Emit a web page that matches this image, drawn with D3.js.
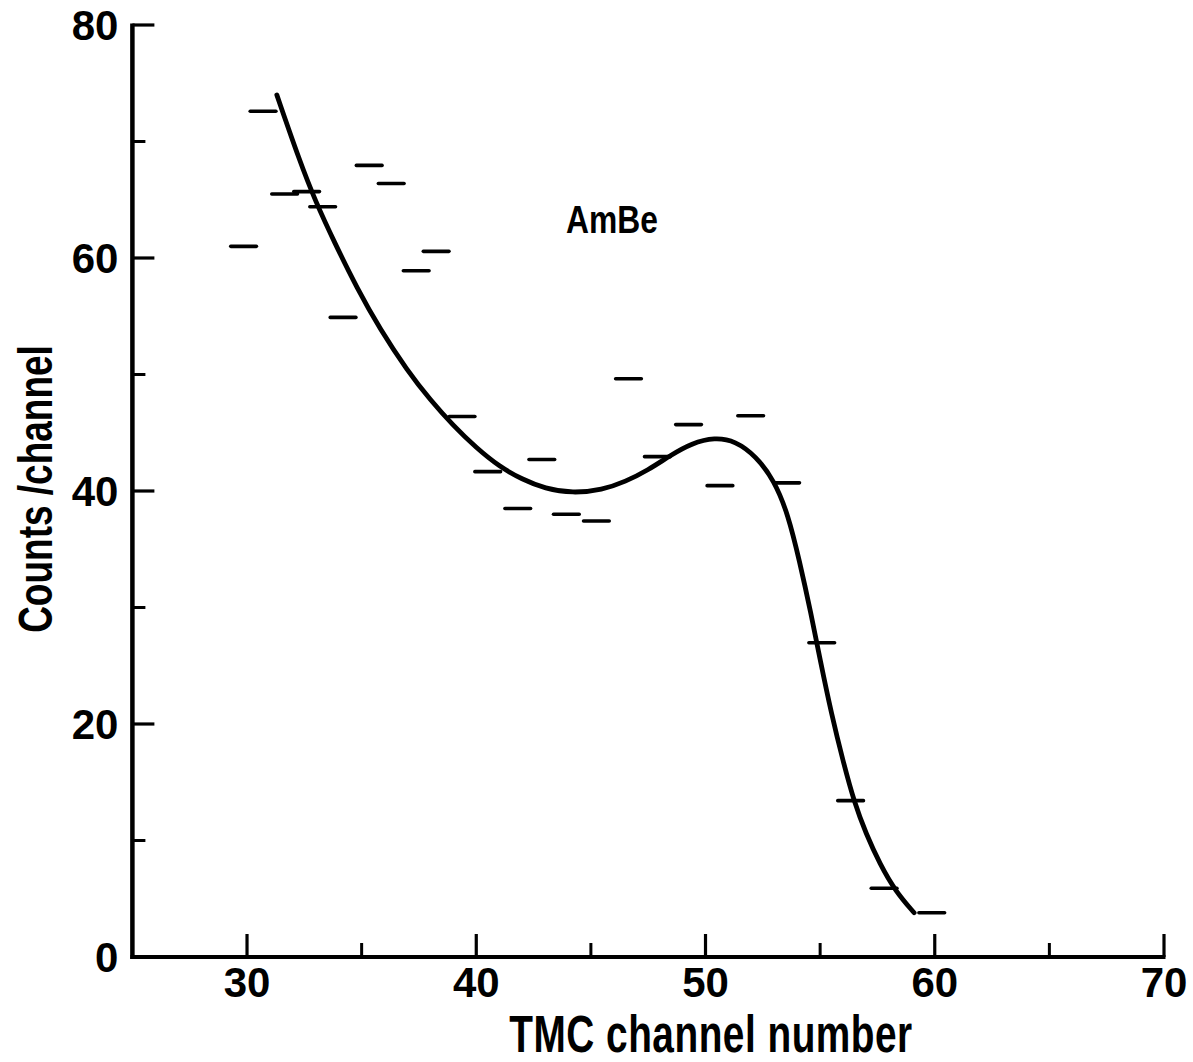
<!DOCTYPE html>
<html>
<head>
<meta charset="utf-8">
<script src="https://cdn.jsdelivr.net/npm/d3@7"></script>
<style>
body { margin: 0; background: #fff; }
text { font-family: "Liberation Sans", Arial, sans-serif; font-weight: bold; fill: #000; }
</style>
</head>
<body>
<script>
var w = 1193, h = 1062;

// measured points (channel, counts/channel)
var chanX = [29.85, 30.70, 31.64, 32.60, 33.30, 34.19, 35.33, 36.29, 37.38, 38.25, 39.38, 40.50, 41.81,
	42.86, 43.93, 45.24, 46.64, 47.90, 49.26, 50.63, 51.97, 53.54, 55.07, 56.33, 57.79, 59.87];
var counts = [61.0, 72.6, 65.5, 65.7, 64.4, 54.9, 67.95, 66.4, 58.9, 60.57, 46.4, 41.66, 38.5,
	42.7, 38.0, 37.42, 49.64, 42.95, 45.7, 40.46, 46.46, 40.7, 26.98, 13.42, 5.9, 3.8];

// hand drawn fit
var fitX = [31.3, 32.3, 33.0, 33.8, 34.8, 35.8, 37.0, 38.0, 39.0, 40.0, 41.0, 42.0, 43.0, 44.2,
	45.5, 46.5, 47.5, 48.5, 49.4, 50.4, 51.3, 52.2, 53.0, 53.6, 54.1, 54.6, 55.0, 55.5, 56.0,
	56.5, 57.0, 57.6, 58.3, 59.1];
var fitY = [74.0, 68.3, 64.8, 61.4, 57.4, 53.9, 50.3, 47.8, 45.6, 43.7, 42.1, 41.0, 40.2, 39.8,
	40.1, 40.8, 41.8, 43.1, 44.1, 44.6, 44.3, 43.0, 40.9, 38.0, 34.0, 29.5, 25.5, 20.8, 16.8,
	13.2, 10.6, 8.0, 5.6, 3.8];

var xMajor = [30, 40, 50, 60, 70];
var xMinor = [35, 45, 55, 65];
var yMajor = [0, 20, 40, 60, 80];
var yMinor = [10, 30, 50, 70];

var x = d3.scaleLinear().domain([25, 70]).range([132.4, 1164]);
var y = d3.scaleLinear().domain([0, 80]).range([957, 25]);

var svg = d3.select("body").append("svg")
	.attr("width", w)
	.attr("height", h)
	.style("background", "#fff");

// x axis, ticks pointing up
var xAxis = svg.append("g").attr("transform", "translate(0," + y(0) + ")");
xAxis.append("line")
	.attr("x1", x(25) - 2).attr("x2", x(70) + 1.5)
	.attr("stroke", "#000").attr("stroke-width", 4);
xAxis.selectAll(".maj").data(xMajor).enter().append("line")
	.attr("x1", function(d) { return x(d); }).attr("x2", function(d) { return x(d); })
	.attr("y1", 0).attr("y2", -23)
	.attr("stroke", "#000").attr("stroke-width", 3.2);
xAxis.selectAll(".min").data(xMinor).enter().append("line")
	.attr("x1", function(d) { return x(d); }).attr("x2", function(d) { return x(d); })
	.attr("y1", 0).attr("y2", -14)
	.attr("stroke", "#000").attr("stroke-width", 3);
xAxis.selectAll("text").data(xMajor).enter().append("text")
	.attr("x", function(d) { return x(d); })
	.attr("y", 40)
	.attr("text-anchor", "middle")
	.style("font-size", "42px")
	.text(function(d) { return d; });

// y axis, ticks pointing right
var yAxis = svg.append("g").attr("transform", "translate(" + x(25) + ",0)");
yAxis.append("line")
	.attr("y1", y(80) - 1.5).attr("y2", y(0) + 2)
	.attr("stroke", "#000").attr("stroke-width", 4.5);
yAxis.selectAll(".maj").data(yMajor).enter().append("line")
	.attr("y1", function(d) { return y(d); }).attr("y2", function(d) { return y(d); })
	.attr("x1", 0).attr("x2", 22)
	.attr("stroke", "#000").attr("stroke-width", 3.2);
yAxis.selectAll(".min").data(yMinor).enter().append("line")
	.attr("y1", function(d) { return y(d); }).attr("y2", function(d) { return y(d); })
	.attr("x1", 0).attr("x2", 13)
	.attr("stroke", "#000").attr("stroke-width", 3);
yAxis.selectAll("text").data(yMajor).enter().append("text")
	.attr("x", -14)
	.attr("y", function(d) { return y(d) + 15; })
	.attr("text-anchor", "end")
	.style("font-size", "42px")
	.text(function(d) { return d; });

// titles (lettering is tall, so stretch vertically)
svg.append("text")
	.attr("transform", "translate(711,1052) scale(1,1.33)")
	.attr("text-anchor", "middle")
	.style("font-size", "38.8px")
	.style("letter-spacing", "0.5px")
	.text("TMC channel number");

svg.append("text")
	.attr("transform", "translate(52,489) rotate(-90) scale(1,1.32)")
	.attr("text-anchor", "middle")
	.style("font-size", "37px")
	.text("Counts /channel");

svg.append("text")
	.attr("transform", "translate(612,233) scale(1,1.23)")
	.attr("text-anchor", "middle")
	.style("font-size", "31.8px")
	.text("AmBe");

// fitted curve, smoothed
var fit = fitX.map(function(d, i) { return [d, fitY[i]]; });
var line = d3.line()
	.x(function(d) { return x(d[0]); })
	.y(function(d) { return y(d[1]); })
	.curve(d3.curveBasis);
svg.append("path")
	.attr("d", line(fit))
	.attr("fill", "none")
	.attr("stroke", "#000")
	.attr("stroke-width", 4.8)
	.attr("stroke-linejoin", "round")
	.attr("stroke-linecap", "round");

// data bars, one channel wide
var pts = chanX.map(function(d, i) { return {c: d, v: counts[i]}; });
svg.append("g").selectAll("line")
	.data(pts)
	.enter()
	.append("line")
	.attr("x1", function(d) { return x(d.c - 0.56); })
	.attr("x2", function(d) { return x(d.c + 0.56); })
	.attr("y1", function(d) { return y(d.v); })
	.attr("y2", function(d) { return y(d.v); })
	.attr("stroke", "#000")
	.attr("stroke-width", 3.6)
	.attr("stroke-linecap", "round");
</script>
</body>
</html>
